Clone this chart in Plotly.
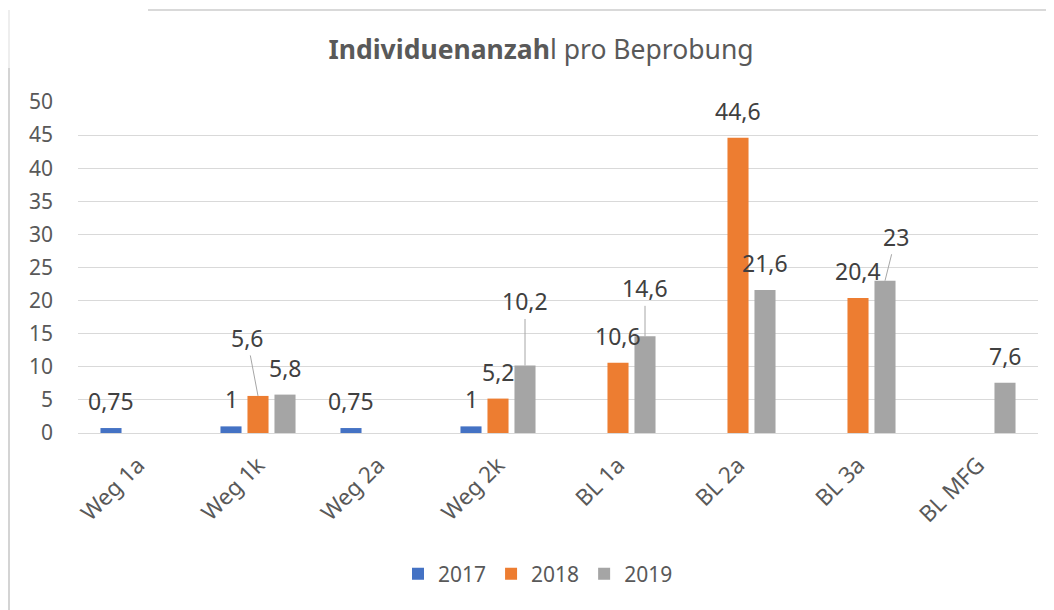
import plotly.graph_objects as go

categories = ["Weg 1a", "Weg 1k", "Weg 2a", "Weg 2k", "BL 1a", "BL 2a", "BL 3a", "BL MFG"]
years = ["2017", "2018", "2019"]
values_2017 = [0.75, 1, 0.75, 1, None, None, None, None]
values_2018 = [None, 5.6, None, 5.2, 10.6, 44.6, 20.4, None]
values_2019 = [None, 5.8, None, 10.2, 14.6, 21.6, 23, 7.6]
colors = ["#4472C4", "#ED7D31", "#A5A5A5"]

# labels that Excel moved away from their bar, with a leader line (pixel offsets)
leader_offsets = {
    ("2018", "Weg 1k"): (-11, -58),
    ("2019", "Weg 2k"): (0, -64),
    ("2019", "BL 1a"): (0, -48),
    ("2019", "BL 3a"): (11, -44),
}

text_col = "#595959"
label_col = "#404040"
font_family = "Noto Sans, Open Sans, sans-serif"
bargap = 0.325

# page has an 8px body margin, so the figure is 8px smaller than the window
W, H = 1046, 602
ml, mt, mr, mb = 70, 94, 16, 177
pw, ph = W - ml - mr, H - mt - mb

fig = go.Figure()
series = [values_2017, values_2018, values_2019]
for year, vals, col in zip(years, series, colors):
    fig.add_trace(go.Bar(
        x=categories, y=vals, name=year,
        marker=dict(color=col, line=dict(width=0)),
        hoverinfo="skip",
    ))

# data labels
slot = (1 - bargap) / len(years)
for j, (year, vals) in enumerate(zip(years, series)):
    for i, (cat, v) in enumerate(zip(categories, vals)):
        if v is None:
            continue
        label = f"{v:g}".replace(".", ",")
        xpos = i + (j - 1) * slot
        if (year, cat) in leader_offsets:
            ax, ay = leader_offsets[(year, cat)]
            fig.add_annotation(
                x=xpos, y=v, text=label, showarrow=True, arrowhead=0,
                arrowwidth=1, arrowcolor="#A6A6A6", ax=ax, ay=ay, standoff=0,
                font=dict(size=23, color=label_col, family=font_family),
            )
        else:
            fig.add_annotation(
                x=xpos, y=v, text=label, showarrow=False, yanchor="middle",
                yshift=27, font=dict(size=23, color=label_col, family=font_family),
            )

# chart border (partial, as in the cropped screenshot)
def px(x):
    return (x - ml) / pw

def py(y):
    return (mt + ph - y) / ph

fig.add_shape(type="line", xref="paper", yref="paper",
              x0=px(1), x1=px(1), y0=py(2), y1=py(60),
              line=dict(color="#E8E8E8", width=1.5))
fig.add_shape(type="line", xref="paper", yref="paper",
              x0=px(1), x1=px(1), y0=py(60), y1=py(H),
              line=dict(color="#D4D4D4", width=2))
fig.add_shape(type="line", xref="paper", yref="paper",
              x0=px(140), x1=px(W), y0=py(2), y1=py(2),
              line=dict(color="#D9D9D9", width=2))

fig.update_layout(
    width=W, height=H,
    margin=dict(l=ml, r=mr, t=mt, b=mb, autoexpand=False),
    paper_bgcolor="white", plot_bgcolor="white",
    barmode="group", bargap=bargap, bargroupgap=0.22,
    title=dict(text="<b>Individuenanzah</b>l pro Beprobung",
               x=533 / W, xanchor="center", y=1 - 42 / H, yanchor="middle",
               font=dict(size=26.5, color=text_col, family=font_family)),
    font=dict(family=font_family, color=text_col),
    legend=dict(orientation="h", x=px(530), xanchor="center", y=py(566), yanchor="middle",
                font=dict(size=21, color=text_col), itemwidth=30,
                traceorder="normal"),
    showlegend=True,
)
fig.update_xaxes(
    type="category", tickangle=-45, showgrid=False,
    showline=True, linecolor="#D9D9D9", linewidth=1,
    tickfont=dict(size=22.5, color=text_col), ticks="", ticklabelstandoff=9,
)
fig.update_yaxes(
    range=[0, 50], dtick=5, showgrid=True, gridcolor="#D9D9D9", gridwidth=1,
    zeroline=False, showline=False, ticks="", ticklabelstandoff=24,
    tickfont=dict(size=21, color=text_col),
)

fig.write_html("out.html")
